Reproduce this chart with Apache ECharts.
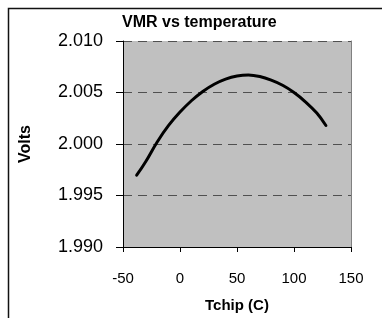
<!DOCTYPE html>
<html>
<head>
    <meta charset="utf-8">
    <script src="https://cdn.jsdelivr.net/npm/echarts@6/dist/echarts.min.js"></script>
</head>
<body>
    <style>
        html,
        body {
            width: 100%;
            height: 100%;
            margin: 0;
            background: #fff;
        }
    </style>
    <div id="main" style="width: 382px;height:318px;"></div>
    <script>
        var tchip = [-38, -30, -20, -10, 0, 10, 20, 30, 40, 50, 60, 70, 80, 90, 100, 110, 120, 128];
        var volts = [1.99697, 1.9983, 2.0002, 2.0018, 2.0031, 2.0042, 2.0051, 2.0058, 2.0063,
            2.0066, 2.0067, 2.00655, 2.0062, 2.0057, 2.0050, 2.0041, 2.0030, 2.0018];
        var xTicks = [-50, 0, 50, 100, 150];
        var yTicks = [1.990, 1.995, 2.000, 2.005, 2.010];

        var font = 'Liberation Sans, Arial, sans-serif';
        var chart = echarts.init(document.getElementById('main'));

        var option = {
            animation: false,
            title: {
                text: 'VMR vs temperature',
                left: 122,
                top: 15,
                padding: 0,
                textStyle: {
                    fontFamily: font,
                    fontSize: 16,
                    fontWeight: 'bold',
                    color: '#000'
                }
            },
            graphic: [{
                type: 'rect',
                shape: { x: 8.5, y: 8.5, width: 420, height: 420 },
                style: { fill: 'none', stroke: '#111', lineWidth: 1.5 },
                silent: true
            }],
            grid: {
                left: 123,
                top: 41,
                width: 228,
                height: 216,
                show: true,
                backgroundColor: '#c0c0c0',
                borderWidth: 0
            },
            xAxis: {
                type: 'value',
                min: xTicks[0],
                max: xTicks[xTicks.length - 1],
                interval: 50,
                name: 'Tchip (C)',
                nameLocation: 'middle',
                nameGap: 51,
                nameTextStyle: {
                    fontFamily: font,
                    fontSize: 15,
                    fontWeight: 'bold',
                    color: '#000'
                },
                axisLine: { onZero: false, lineStyle: { color: '#000', width: 1 } },
                axisTick: { length: 5, lineStyle: { color: '#000' } },
                axisLabel: {
                    margin: 24,
                    fontFamily: font,
                    fontSize: 15,
                    color: '#000'
                },
                splitLine: { show: false }
            },
            yAxis: [{
                type: 'value',
                min: yTicks[0],
                max: yTicks[yTicks.length - 1],
                interval: 0.005,
                name: 'Volts',
                nameLocation: 'middle',
                nameRotate: 90,
                nameGap: 89,
                nameTextStyle: {
                    fontFamily: font,
                    fontSize: 16,
                    fontWeight: 'bold',
                    color: '#000'
                },
                axisLine: { show: true, onZero: false, lineStyle: { color: '#000', width: 1 } },
                axisTick: { show: true, length: 7, lineStyle: { color: '#000' } },
                axisLabel: {
                    margin: 20,
                    fontFamily: font,
                    fontSize: 18,
                    color: '#000',
                    formatter: function (v) { return v.toFixed(3); }
                },
                splitLine: {
                    show: true,
                    lineStyle: { color: '#505050', type: [9, 6], width: 1 }
                }
            }, {
                type: 'value',
                position: 'right',
                min: yTicks[0],
                max: yTicks[yTicks.length - 1],
                axisLine: { show: true, onZero: false, lineStyle: { color: '#808080', width: 1 } },
                axisTick: { show: false },
                axisLabel: { show: false },
                splitLine: { show: false }
            }],
            series: [{
                type: 'line',
                data: tchip.map(function (t, i) { return [t, volts[i]]; }),
                smooth: 0.4,
                showSymbol: false,
                lineStyle: { color: '#000', width: 3, cap: 'round' }
            }]
        };
        chart.setOption(option);
    </script>
</body>
</html>
